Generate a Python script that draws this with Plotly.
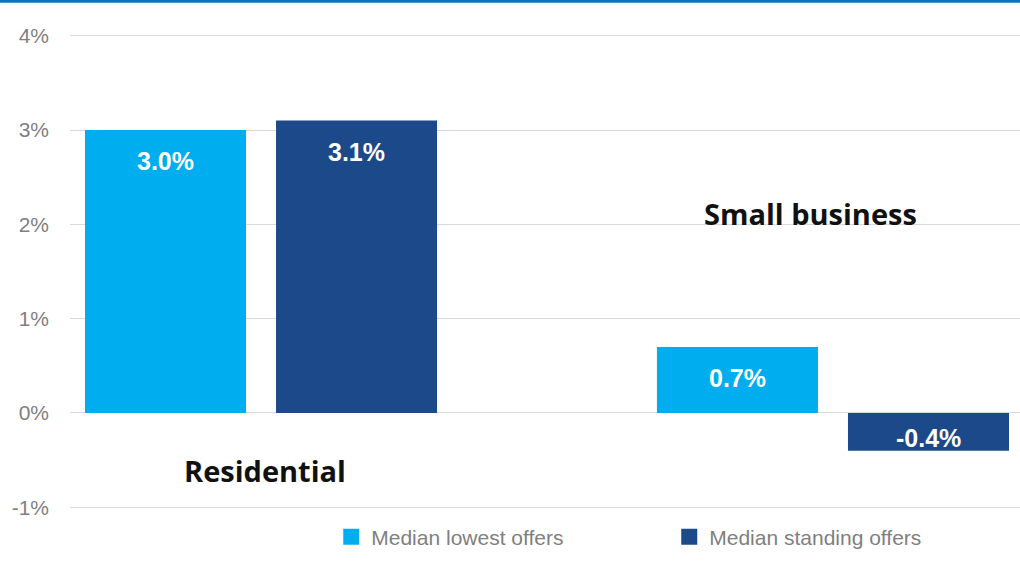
import plotly.graph_objects as go

# Segments and annual price change (%) for each offer type
segments = ["Residential", "Small business"]
lowest_offers = [3.0, 0.7]
standing_offers = [3.1, -0.4]
series_names = ["Median lowest offers", "Median standing offers"]
tick_values = [-1, 0, 1, 2, 3, 4]
tick_labels = ["-1%", "0%", "1%", "2%", "3%", "4%"]

LIGHT = "#00AEEF"
DARK = "#1B4989"
NARROW = "Liberation Sans Narrow, Arial Narrow, Liberation Sans, Arial"

fig = go.Figure()
for name, values, color in ((series_names[0], lowest_offers, LIGHT),
                            (series_names[1], standing_offers, DARK)):
    fig.add_trace(go.Bar(x=segments, y=values, name=name, showlegend=False,
                         marker=dict(color=color, line=dict(width=0))))
    # square legend swatch
    fig.add_trace(go.Scatter(x=[None], y=[None], mode="markers", name=name,
                             marker=dict(symbol="square", size=17, color=color)))

# Value labels inside the bars
label_font = dict(family=NARROW, size=25, color="white")
for values, shift in ((lowest_offers, -95.5), (standing_offers, 95.5)):
    for seg, v in zip(segments, values):
        fig.add_annotation(x=seg, y=v, text=f"<b>{v:.1f}%</b>", showarrow=False,
                           xref="x", yref="y", xshift=shift,
                           yshift=-31 if v >= 0 else 13, font=label_font)

# Segment captions
cap_font = dict(family="Open Sans, Lato, sans-serif", size=29, color="#111111")
fig.add_annotation(x=segments[0], y=-0.61, text="<b>Residential</b>", showarrow=False,
                   xshift=4, font=cap_font)
fig.add_annotation(x=segments[1], y=2.12, text="<b>Small business</b>", showarrow=False,
                   xshift=-22, font=cap_font)

# Thin rule across the top edge
fig.add_shape(type="line", xref="paper", yref="paper", x0=-0.08, x1=1.01,
              y0=1.062, y1=1.062, line=dict(color="#0A75BC", width=3))

fig.update_layout(
    width=1020, height=574,
    margin=dict(l=70, r=0, t=31, b=62),
    paper_bgcolor="white", plot_bgcolor="white",
    barmode="group", bargap=0.332, bargroupgap=0.157,
    showlegend=True,
    legend=dict(orientation="h", x=0.275, xanchor="left", y=-0.052, yanchor="middle",
                font=dict(family=NARROW, size=21, color="#7F7F7F"),
                entrywidth=293, entrywidthmode="pixels"),
    xaxis=dict(type="category", range=[-0.334, 1.327], showticklabels=False,
               showgrid=False, zeroline=False, showline=False, ticks=""),
    yaxis=dict(range=[-1.05, 4.05], tickvals=tick_values, ticktext=tick_labels,
               showgrid=True, gridcolor="#D9D9D9", gridwidth=1,
               zeroline=True, zerolinecolor="#D9D9D9", zerolinewidth=1,
               showline=False, ticks="", ticklabelstandoff=20,
               tickfont=dict(family=NARROW, size=21, color="#7F7F7F")),
)

fig.write_html("out.html")
